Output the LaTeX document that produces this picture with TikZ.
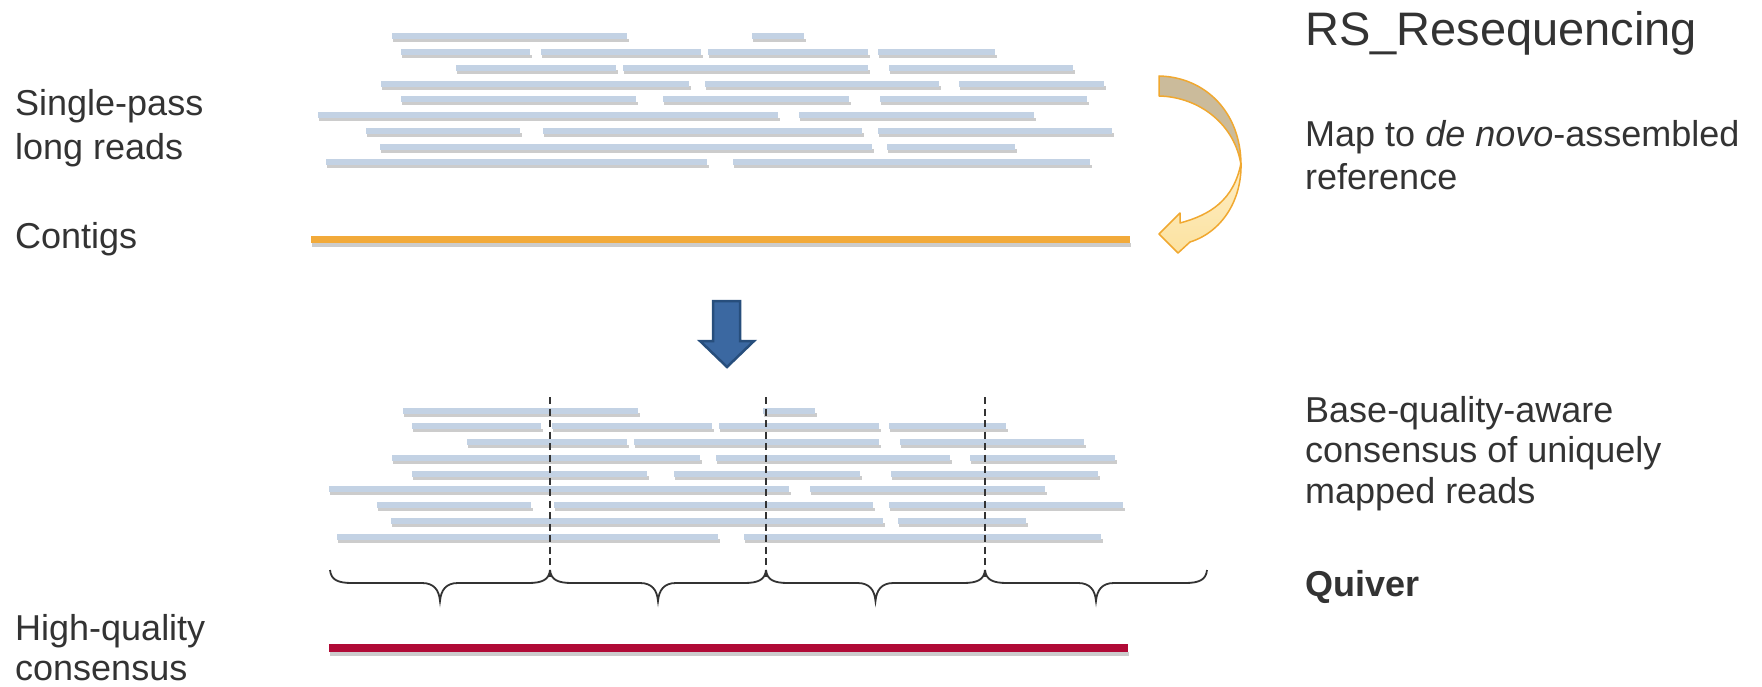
\documentclass[tikz,border=0pt]{standalone}
\usepackage{fontspec}
\setmainfont{Liberation Sans}
\definecolor{readblue}{HTML}{C3D2E4}
\definecolor{txt}{HTML}{333333}
\definecolor{contig}{HTML}{F2AA3A}
\definecolor{consred}{HTML}{B00A36}
\definecolor{arrblue}{HTML}{3B68A1}
\definecolor{arrblueedge}{HTML}{274E7C}
\definecolor{backtan}{HTML}{CBBB9B}
\definecolor{paleyel}{HTML}{FCE2A0}
\definecolor{arrorange}{HTML}{F0A830}
\tikzset{
  lbl/.style={font=\fontsize{36}{43}\selectfont, text=txt, inner sep=0pt, anchor=base west},
  ttl/.style={font=\fontsize{47}{56}\selectfont, text=txt, inner sep=0pt, anchor=base west},
  rdfill/.style={fill=readblue},
  rdshadow/.style={fill=black, opacity=0.2},
  dashline/.style={draw=txt, line width=1.3pt, dash pattern=on 7pt off 4.5pt},
  bracestyle/.style={draw=txt, line width=1.8pt},
}
\newcommand\rdbar[3]{%
  \fill[rdshadow] (#1+0.5,#3+2) rectangle (#2+1.5,#3+5.5);
  \fill[rdfill] (#1,#3-3.5) rectangle (#2,#3+2.5);}
\newcommand\allreads[2]{%
  \foreach \r/\segs in {0/{392/627,752/804},1/{401/530,541/701,708/868,878/995},2/{456/616,623/868,889/1073},3/{381/689,705/939,959/1104},4/{401/636,663/849,880/1087},5/{318/778,799/1034},6/{366/520,543/862,878/1112},7/{380/872,887/1015},8/{326/707,733/1090}}{%
    \foreach \a/\b in \segs {\rdbar{\a+#1}{\b+#1}{37+15.75*\r+#2}}%
  }}
\newcommand\mybrace[2]{%
  \pgfmathsetmacro\bm{(#1+#2)/2}%
  \draw[bracestyle] (#1,570) .. controls (#1+1,580) and (#1+8,583) .. (#1+22,583)
    -- (\bm-18,583) .. controls (\bm-6,583) and (\bm-1,590) .. (\bm,601)
    .. controls (\bm+1,590) and (\bm+6,583) .. (\bm+18,583)
    -- (#2-22,583) .. controls (#2-8,583) and (#2-1,580) .. (#2,570);}
\begin{document}
\begin{tikzpicture}[x=1pt,y=-1pt]
\useasboundingbox (0,0) rectangle (1762,687);

% reads
\allreads{0}{0}
\allreads{11}{374}

% contigs line
\fill[rdshadow] (312,243) rectangle (1131,247);
\fill[contig] (311,236) rectangle (1130,243);

% consensus line
\fill[rdshadow] (330,652) rectangle (1129,656);
\fill[consred] (329,644) rectangle (1128,652);

% dashed lines
\foreach \x/\n in {550/1,766/2,985/3}{
  \coordinate (dt\n) at (\x,397);
  \coordinate (db\n) at (\x,577);
  \draw[dashline] (dt\n) -- (db\n);
}

% braces
\mybrace{330}{550}
\mybrace{550}{766}
\mybrace{766}{985}
\mybrace{985}{1207}

% blue down arrow
\draw[fill=arrblue, draw=arrblueedge, line width=2.5pt, line join=miter]
  (713,301) -- (740,301) -- (740,341) -- (754,341) -- (727,367) -- (700,341) -- (713,341) -- cycle;

% curved arrow: back face
\draw[fill=backtan, draw=arrorange, line width=1.5pt, line join=round]
  (1159,76) .. controls (1205,77) and (1241,112) .. (1241,165)
  .. controls (1235,125) and (1200,97) .. (1159,96) -- cycle;
% front face
\draw[top color=paleyel!60!white, bottom color=paleyel, draw=arrorange, line width=1.5pt, line join=round]
  (1241,163) .. controls (1242,200) and (1222,232) .. (1190,242)
  -- (1178,253) -- (1159,234) -- (1180,213) -- (1180,223)
  .. controls (1210,215) and (1234,200) .. (1241,163) -- cycle;

% texts
\node[lbl] (sp) at (15,116) {Single-pass};
\node[lbl] (lr) at (15,160) {long reads};
\node[lbl] (ct) at (15,248) {Contigs};
\node[lbl] (hq) at (15,640) {High-quality};
\node[lbl] (cs) at (15,680) {consensus};
\node[ttl] (title) at (1305,46) {RS\_Resequencing};
\node[lbl] (map1) at (1305,147) {Map to \textit{de novo}-assembled};
\node[lbl] (map2) at (1305,190) {reference};
\node[lbl] (bq1) at (1305,422) {Base-quality-aware};
\node[lbl] (bq2) at (1305,462) {consensus of uniquely};
\node[lbl] (bq3) at (1305,503) {mapped reads};
\node[lbl] (qv) at (1305,596) {\bfseries Quiver};
\end{tikzpicture}
\end{document}
